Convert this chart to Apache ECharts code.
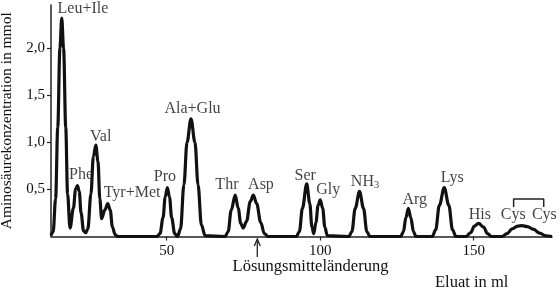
<!DOCTYPE html>
<html><head><meta charset="utf-8">
<script src="https://cdn.jsdelivr.net/npm/echarts@6/dist/echarts.min.js"></script>
<style>html,body{margin:0;padding:0;background:#fff}#c{width:560px;height:293px}</style>
</head><body><div id="c"></div>
<script>
// Chromatogram trace (eluate in ml, concentration in mmol)
const eluateMl = [12.3,13.0,13.8,14.5,15.2,15.8,16.4,17.1,17.7,18.5,
  19.6,20.3,20.9,21.5,22.1,22.9,23.6,24.3,25.3,26.1,26.9,27.6,28.2,28.8,29.8,30.8,31.6,32.3,33.2,34.0,
  46.8,47.8,48.8,49.5,50.2,50.9,51.6,52.6,53.5,
  54.5,55.6,56.6,57.9,59.2,60.2,61.3,62.5,
  69.0,70.0,71.0,72.3,73.3,74.1,74.9,76.0,77.2,78.2,79.3,80.6,81.8,83.0,
  92.2,93.2,94.2,95.6,96.6,97.3,97.9,98.6,99.3,100.0,100.8,101.5,102.3,
  109.3,110.3,111.4,112.8,114.1,115.2,116.2,
  126.2,127.1,127.9,128.7,129.5,130.4,131.2,
  136.5,137.6,138.8,140.4,141.9,143.1,144.2,
  147.5,149.0,150.2,151.6,153.2,154.5,155.8,
  159.2,160.8,162.5,164.3,165.7,167.5,169.5,171.5,173.5,175.5];
const concentration = [0.01,0.05,0.4,1.16,2.0,2.32,2.0,1.16,0.45,0.09,
  0.3,0.5,0.54,0.48,0.25,0.06,0.04,0.08,0.45,0.85,0.97,0.8,0.4,0.19,0.28,0.35,0.28,0.1,0.02,0,
  0,0.03,0.2,0.42,0.52,0.42,0.2,0.03,0,
  0.08,0.55,1.0,1.25,1.0,0.55,0.12,0.01,
  0,0.05,0.28,0.44,0.3,0.14,0.09,0.16,0.37,0.44,0.35,0.15,0.03,0,
  0,0.05,0.3,0.56,0.35,0.1,0.03,0.15,0.33,0.39,0.3,0.1,0.01,
  0,0.05,0.3,0.48,0.3,0.05,0,
  0,0.05,0.2,0.3,0.2,0.05,0,
  0,0.07,0.33,0.52,0.33,0.07,0,
  0,0.04,0.11,0.14,0.1,0.03,0,
  0,0.03,0.08,0.11,0.115,0.105,0.075,0.035,0.008,0];

// Peak labels and where they sit (data coordinates)
const labelNames = ['Leu+Ile','Phe','Val','Tyr+Met','Pro','Ala+Glu','Thr','Asp','Ser','Gly','NH3','Arg','Lys','His','Cys','Cys'];
const labelMl   = [22.7,22.1,28.5,38.7,49.4,58.4,69.6,80.7,95.1,102.6,114.6,130.8,143.0,152.0,162.9,173.0];
const labelConc = [2.42,0.654,1.06,0.465,0.635,1.362,0.547,0.547,0.643,0.494,0.582,0.395,0.625,0.228,0.228,0.228];

const xTickValues = [50,100,150];
const yTickValues = [0.5,1.0,1.5,2.0];
const cysBracketMl = [163.0,163.0,172.8,172.8];
const cysBracketConc = [0.313,0.398,0.398,0.313];
const solventChangeMl = 79.5;

const FONT = 'Liberation Serif';
const TXT = '#111';
const chart = echarts.init(document.getElementById('c'), null, {renderer:'canvas'});
chart.setOption({
  animation:false,
  backgroundColor:'#fff',
  grid:{left:51,right:8,top:5,bottom:56.5,containLabel:false,outerBoundsMode:'none'},
  xAxis:{type:'value',min:12.3,max:175.5,
    axisLine:{show:true,onZero:false,lineStyle:{color:'#222',width:1.5}},
    axisTick:{show:true,length:4,customValues:xTickValues,lineStyle:{color:'#222',width:1.2}},
    axisLabel:{customValues:xTickValues,margin:7,fontFamily:FONT,fontSize:15,color:TXT},
    splitLine:{show:false}},
  yAxis:{type:'value',min:0,max:2.46,
    name:'Aminosäurekonzentration in mmol',nameLocation:'middle',nameGap:36,
    nameTextStyle:{fontFamily:FONT,fontSize:15.5,color:TXT},
    axisLine:{show:true,lineStyle:{color:'#222',width:1.5}},
    axisTick:{show:true,length:4,customValues:yTickValues,lineStyle:{color:'#222',width:1.2}},
    axisLabel:{customValues:yTickValues,margin:6,fontFamily:FONT,fontSize:15,color:TXT,
      formatter:v=>v.toFixed(1).replace('.',',')},
    splitLine:{show:false}},
  series:[
    {type:'line',data:eluateMl.map((x,i)=>[x,concentration[i]]),smooth:0.35,smoothMonotone:'x',
     showSymbol:false,lineStyle:{color:'#111',width:3.2},z:3},
    {type:'line',data:cysBracketMl.map((x,i)=>[x,cysBracketConc[i]]),showSymbol:false,
     lineStyle:{color:'#222',width:1.5}},
    {type:'scatter',symbolSize:0,data:labelMl.map((x,i)=>({value:[x,labelConc[i]],name:labelNames[i]})),
     label:{show:true,position:'inside',fontFamily:FONT,fontSize:16,color:TXT,
       formatter:p=>p.name==='NH3'?'{a|NH}{b|3}':p.name,
       rich:{a:{fontFamily:FONT,fontSize:16,color:TXT},b:{fontFamily:FONT,fontSize:10.5,color:TXT,padding:[8,0,0,0]}}},
     z:5}
  ]
});
const ax = chart.convertToPixel({gridIndex:0},[solventChangeMl,0])[0];
chart.setOption({graphic:[
  {type:'line',shape:{x1:ax,y1:257,x2:ax,y2:240},style:{stroke:'#222',lineWidth:1.3}},
  {type:'polyline',shape:{points:[[ax-3,246],[ax,239],[ax+3,246]]},style:{stroke:'#222',lineWidth:1.3,fill:null}},
  {type:'text',x:310.5,y:267,style:{text:'Lösungsmitteländerung',fontFamily:FONT,fontSize:16.5,fill:TXT,textAlign:'center',textVerticalAlign:'middle'}},
  {type:'text',x:471.7,y:283,style:{text:'Eluat in ml',fontFamily:FONT,fontSize:16.5,fill:TXT,textAlign:'center',textVerticalAlign:'middle'}}
]});
</script></body></html>
